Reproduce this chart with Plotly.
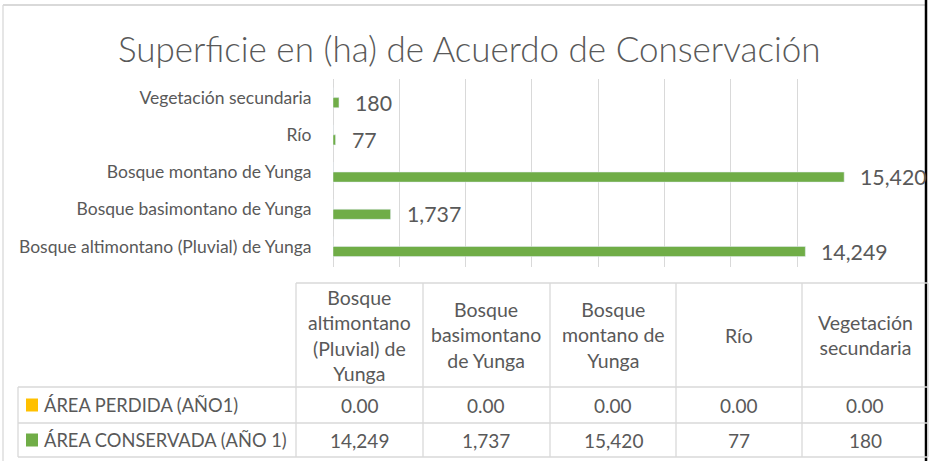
import plotly.graph_objects as go

# ---------------- data ----------------
categories = [
    "Bosque altimontano (Pluvial) de Yunga",
    "Bosque basimontano de Yunga",
    "Bosque montano de Yunga",
    "Río",
    "Vegetación secundaria",
]
header_labels = [
    "Bosque<br>altimontano<br>(Pluvial) de<br>Yunga",
    "Bosque<br>basimontano<br>de Yunga",
    "Bosque<br>montano de<br>Yunga",
    "Río",
    "Vegetación<br>secundaria",
]
area_perdida = [0.00, 0.00, 0.00, 0.00, 0.00]
area_conservada = [14249, 1737, 15420, 77, 180]
series_names = ["ÁREA PERDIDA (AÑO1)", "ÁREA CONSERVADA (AÑO 1)"]
title_text = "Superficie en (ha) de Acuerdo de Conservación"

# ---------------- style ----------------
W, H = 930, 461
GREEN = "#70ad47"
ORANGE = "#ffc000"
TXT = "#595959"
GRID = "#d9d9d9"
FONT = "Lato"


def px(x):
    return x / W


def py(y):
    return 1 - y / H


fig = go.Figure()
fig.add_trace(go.Bar(
    y=categories, x=area_conservada, orientation="h",
    marker=dict(color=GREEN), name=series_names[1], showlegend=False,
    hoverinfo="x+y",
))
fig.add_trace(go.Bar(
    y=categories, x=area_perdida, orientation="h",
    marker=dict(color=ORANGE), name=series_names[0], showlegend=False,
    hoverinfo="x+y",
))

annotations = []
# data labels
for c, v in zip(categories, area_conservada):
    annotations.append(dict(
        x=v, y=c, xref="x", yref="y", text=f"{v:,.0f}", showarrow=False,
        xanchor="left", yanchor="middle", xshift=14, yshift=-5,
        font=dict(family=FONT, size=21.3, color=TXT),
    ))

# title
annotations.append(dict(
    x=px(469), y=py(48), xref="paper", yref="paper", text=title_text,
    showarrow=False, xanchor="center", yanchor="middle",
    font=dict(family=FONT, size=35, color=TXT, weight=300),
))

shapes = []
line_c = dict(color=GRID, width=1.3)
# chart border (left, top) and screenshot right edge
shapes.append(dict(type="line", xref="paper", yref="paper", x0=px(3), x1=px(3), y0=py(5), y1=py(461), line=line_c))
shapes.append(dict(type="line", xref="paper", yref="paper", x0=px(3), x1=px(925), y0=py(5), y1=py(5), line=dict(color=GRID, width=2)))
shapes.append(dict(type="line", xref="paper", yref="paper", x0=px(926), x1=px(926), y0=py(0), y1=py(461), line=dict(color="#000000", width=2.5)))

# data table geometry
col_edges = [296, 423, 550, 676, 802, 928]
row_edges = [283, 387, 423, 457]
table_left = 18

# header row lines
shapes.append(dict(type="line", xref="paper", yref="paper", x0=px(col_edges[0]), x1=px(928), y0=py(row_edges[0]), y1=py(row_edges[0]), line=line_c))
for y in row_edges[1:]:
    shapes.append(dict(type="line", xref="paper", yref="paper", x0=px(table_left), x1=px(928), y0=py(y), y1=py(y), line=line_c))
for x in col_edges:
    shapes.append(dict(type="line", xref="paper", yref="paper", x0=px(x), x1=px(x), y0=py(row_edges[0]), y1=py(row_edges[-1]), line=line_c))
shapes.append(dict(type="line", xref="paper", yref="paper", x0=px(table_left), x1=px(table_left), y0=py(row_edges[1]), y1=py(row_edges[-1]), line=line_c))

# header texts
for i, lab in enumerate(header_labels):
    cx = (col_edges[i] + col_edges[i + 1]) / 2
    cy = (row_edges[0] + row_edges[1]) / 2
    annotations.append(dict(
        x=px(cx), y=py(cy), xref="paper", yref="paper", text=lab, showarrow=False,
        xanchor="center", yanchor="middle",
        font=dict(family=FONT, size=19.5, color=TXT),
    ))

# series rows
rows = [(series_names[0], ORANGE, area_perdida, "{:.2f}"),
        (series_names[1], GREEN, area_conservada, "{:,.0f}")]
for r, (name, col, vals, fmt) in enumerate(rows):
    y0, y1 = row_edges[r + 1], row_edges[r + 2]
    cy = (y0 + y1) / 2
    shapes.append(dict(type="rect", xref="paper", yref="paper",
                       x0=px(26), x1=px(38), y0=py(cy - 6.5), y1=py(cy + 6.5),
                       fillcolor=col, line=dict(width=0)))
    annotations.append(dict(
        x=px(42), y=py(cy), xref="paper", yref="paper", text=name, showarrow=False,
        xanchor="left", yanchor="middle",
        font=dict(family=FONT, size=18.3, color=TXT),
    ))
    for i, v in enumerate(vals):
        cx = (col_edges[i] + col_edges[i + 1]) / 2
        annotations.append(dict(
            x=px(cx), y=py(cy), xref="paper", yref="paper", text=fmt.format(v), showarrow=False,
            xanchor="center", yanchor="middle",
            font=dict(family=FONT, size=19, color=TXT),
        ))

fig.update_layout(
    width=W, height=H,
    margin=dict(l=0, r=0, t=0, b=0),
    paper_bgcolor="white", plot_bgcolor="white",
    barmode="group", bargap=0.46, bargroupgap=0,
    showlegend=False,
    xaxis=dict(domain=[px(333), px(863.4)], range=[0, 16000], dtick=2000,
               showgrid=True, gridcolor=GRID, gridwidth=1.3,
               zeroline=True, zerolinecolor=GRID, zerolinewidth=1.3,
               showticklabels=False, showline=False, fixedrange=True),
    yaxis=dict(domain=[py(266.5), py(79)], type="category",
               categoryorder="array", categoryarray=categories,
               showgrid=False, zeroline=False, showline=False,
               ticks="outside", ticklen=0, ticklabelstandoff=17,
               tickfont=dict(family=FONT, size=17.5, color=TXT), fixedrange=True),
    shapes=shapes, annotations=annotations,
)

fig.write_html(
    "out.html",
    config={"displayModeBar": False},
    post_script="document.body.style.margin='0px';document.body.style.overflow='hidden';",
)
